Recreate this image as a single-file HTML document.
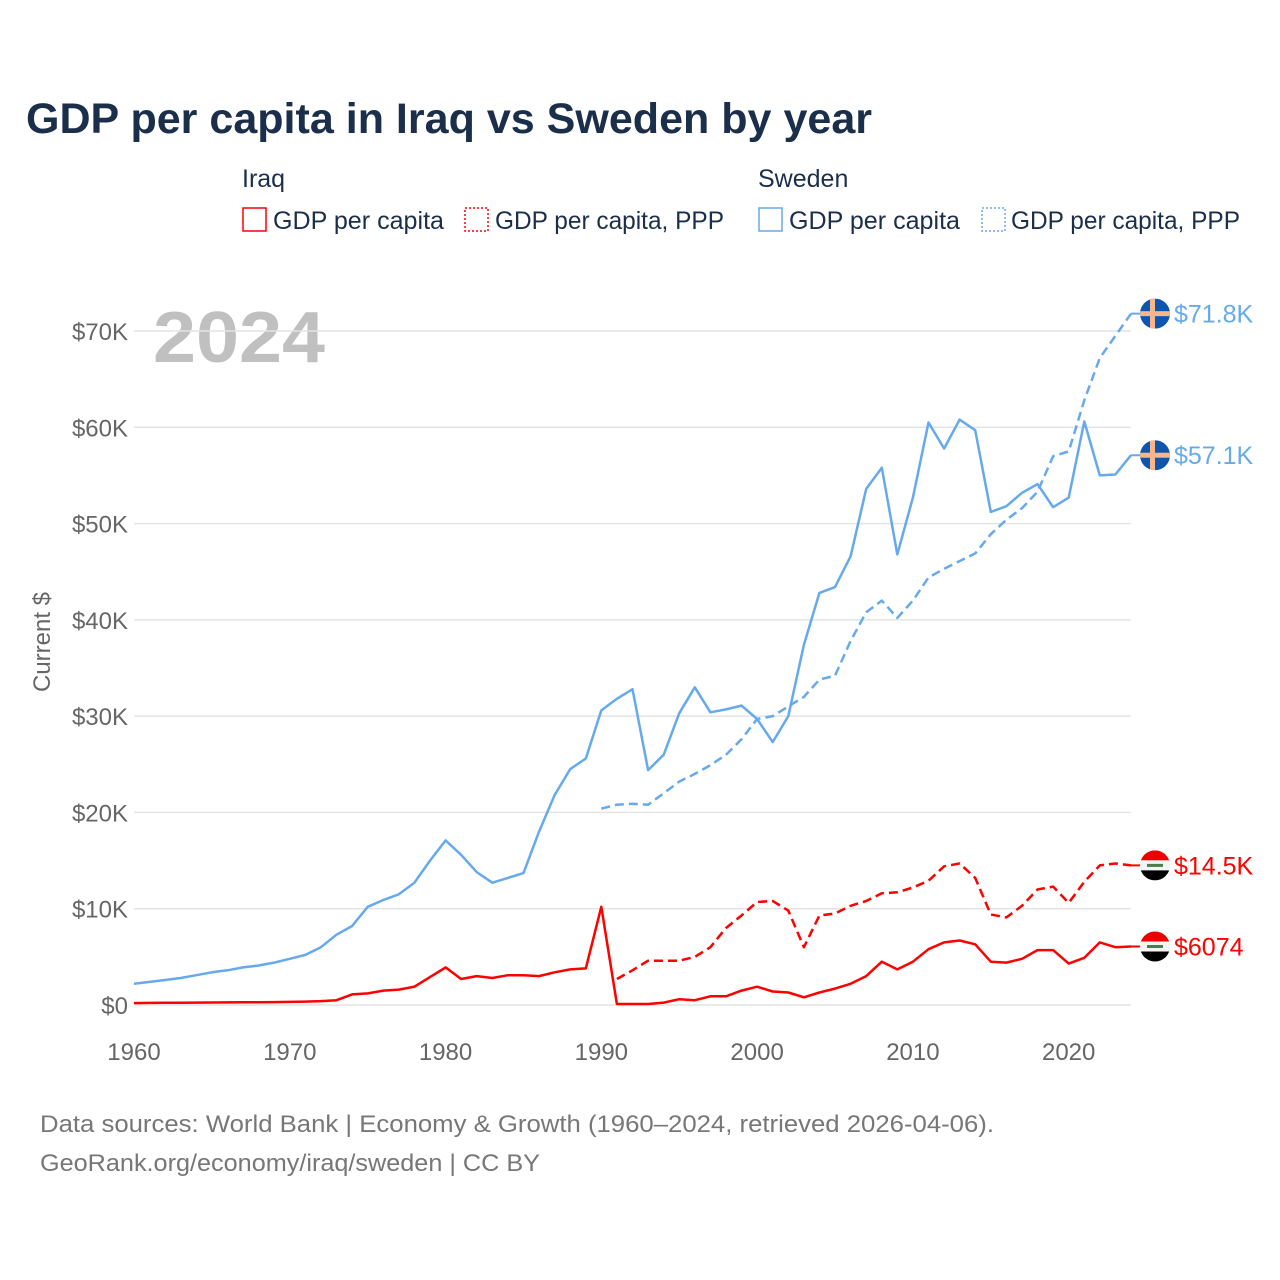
<!DOCTYPE html>
<html><head><meta charset="utf-8"><style>
body{margin:0;background:#fff;font-family:"Liberation Sans",sans-serif;}
#wrap{position:relative;width:1280px;height:1280px;overflow:hidden;}
</style></head><body>
<div id="wrap">
<svg id="chart" width="1280" height="1280" xmlns="http://www.w3.org/2000/svg">
<defs id="defs"></defs>
<text x="26" y="133" font-size="43" font-weight="bold" fill="#1b2f4a" textLength="846" lengthAdjust="spacingAndGlyphs">GDP per capita in Iraq vs Sweden by year</text>
<g font-size="25" fill="#1b2f4a">
<text x="242" y="187">Iraq</text>
<text x="758" y="187">Sweden</text>
<g><rect x="243" y="208" width="23" height="23" fill="none" stroke="#f00" stroke-width="1.5"/><text x="273" y="229" textLength="171" lengthAdjust="spacingAndGlyphs">GDP per capita</text></g>
<g><rect x="465" y="208" width="23" height="23" fill="none" stroke="#f00" stroke-width="1.5" stroke-dasharray="2,2"/><text x="495" y="229" textLength="229" lengthAdjust="spacingAndGlyphs">GDP per capita, PPP</text></g>
<g><rect x="759" y="208" width="23" height="23" fill="none" stroke="#66a9ec" stroke-width="1.5"/><text x="789" y="229" textLength="171" lengthAdjust="spacingAndGlyphs">GDP per capita</text></g>
<g><rect x="982" y="208" width="23" height="23" fill="none" stroke="#66a9ec" stroke-width="1.5" stroke-dasharray="2,2"/><text x="1011" y="229" textLength="229" lengthAdjust="spacingAndGlyphs">GDP per capita, PPP</text></g>
</g>
<text x="153" y="362" font-size="72" font-weight="bold" fill="#c0c0c0" textLength="172" lengthAdjust="spacingAndGlyphs">2024</text>
<text transform="translate(50,642) rotate(-90)" text-anchor="middle" font-size="24" fill="#666">Current $</text>
<g id="grid"></g><g id="yticks"></g><g id="xticks"></g><g id="series"></g><g id="ends"></g>
<text x="40" y="1132" font-size="24" fill="#777" textLength="954" lengthAdjust="spacingAndGlyphs">Data sources: World Bank | Economy &amp; Growth (1960–2024, retrieved 2026-04-06).</text>
<text x="40" y="1171" font-size="24" fill="#777" textLength="500" lengthAdjust="spacingAndGlyphs">GeoRank.org/economy/iraq/sweden | CC BY</text>
</svg></div>
<script>
const yTicks=[0,10000,20000,30000,40000,50000,60000,70000];
const yTickLabels=["$0","$10K","$20K","$30K","$40K","$50K","$60K","$70K"];
const xTicks=[1960,1970,1980,1990,2000,2010,2020];
const swedenGdpYears=[1960,1961,1962,1963,1964,1965,1966,1967,1968,1969,1970,1971,1972,1973,1974,1975,1976,1977,1978,1979,1980,1981,1982,1983,1984,1985,1986,1987,1988,1989,1990,1991,1992,1993,1994,1995,1996,1997,1998,1999,2000,2001,2002,2003,2004,2005,2006,2007,2008,2009,2010,2011,2012,2013,2014,2015,2016,2017,2018,2019,2020,2021,2022,2023,2024];
const swedenGdp=[2200,2400,2600,2800,3100,3400,3600,3900,4100,4400,4800,5200,6000,7300,8200,10200,10900,11500,12700,15000,17100,15600,13800,12700,13200,13700,18000,21800,24500,25600,30600,31800,32800,24400,26000,30300,33000,30400,30700,31100,29700,27300,30000,37400,42800,43400,46600,53600,55800,46800,52700,60500,57800,60800,59700,51200,51800,53200,54100,51700,52700,60600,55000,55100,57100];
const iraqGdp=[200,220,230,230,250,260,270,280,290,300,320,350,400,500,1100,1200,1500,1600,1900,2900,3900,2700,3000,2800,3100,3100,3000,3400,3700,3800,10200,100,100,100,250,600,500,900,900,1500,1900,1400,1300,800,1300,1700,2200,3000,4500,3700,4500,5800,6500,6700,6300,4500,4400,4800,5700,5700,4300,4900,6500,6000,6074];
const swedenPppYears=[1990,1991,1992,1993,1994,1995,1996,1997,1998,1999,2000,2001,2002,2003,2004,2005,2006,2007,2008,2009,2010,2011,2012,2013,2014,2015,2016,2017,2018,2019,2020,2021,2022,2023,2024];
const swedenPpp=[20400,20800,20900,20800,22000,23200,24000,24900,26000,27600,29700,30000,31000,32000,33800,34200,37800,40800,42000,40200,42000,44400,45300,46100,46900,48900,50400,51600,53300,57000,57500,62800,67200,69500,71800];
const iraqPppYears=[1991,1992,1993,1994,1995,1996,1997,1998,1999,2000,2001,2002,2003,2004,2005,2006,2007,2008,2009,2010,2011,2012,2013,2014,2015,2016,2017,2018,2019,2020,2021,2022,2023,2024];
const iraqPpp=[2700,3600,4600,4600,4600,5000,6000,8000,9300,10700,10800,9800,6000,9300,9500,10300,10800,11600,11700,12200,12900,14400,14700,13200,9400,9100,10300,12000,12300,10600,12800,14500,14700,14500];
const endLabels=["$71.8K","$57.1K","$14.5K","$6074"];

const NS="http://www.w3.org/2000/svg";
const X=y=>134+(y-1960)*(1131-134)/64;
const Y=v=>1005-v*(1005-331)/70000;
function mk(t,a,p){const e=document.createElementNS(NS,t);for(const k in a)e.setAttribute(k,a[k]);(typeof p==='string'?document.getElementById(p):p).appendChild(e);return e;}
yTicks.forEach((v,i)=>{
 const l=mk('line',{x1:134,x2:1131,y1:Y(v),y2:Y(v),stroke:'#e4e4e4','stroke-width':1.5},'grid');
 
 
 const t=mk('text',{x:128,y:Y(v)+9,'text-anchor':'end','font-size':24,fill:'#666'},'yticks');
 t.textContent=yTickLabels[i];
 
 
});
xTicks.forEach(v=>{
 const t=mk('text',{x:X(v),y:1060,'text-anchor':'middle','font-size':24,fill:'#666'},'xticks');
 t.textContent=v;
 
 
});
function line(years,vals,color,dash,name){
 const d=years.map((y,i)=>(i?'L':'M')+X(y).toFixed(1)+','+Y(vals[i]).toFixed(1)).join('');
 const p=mk('path',{d:d,fill:'none',stroke:color,'stroke-width':2.5,'stroke-linejoin':'round'},'series');
 if(dash)p.setAttribute('stroke-dasharray','9,5');
 
 
}
line(swedenGdpYears,swedenGdp,'#66a9ec',false,'line-sweden-gdp');
line(swedenPppYears,swedenPpp,'#66a9ec',true,'line-sweden-ppp');
line(swedenGdpYears,iraqGdp,'#f00',false,'line-iraq-gdp');
line(iraqPppYears,iraqPpp,'#f00',true,'line-iraq-ppp');
const ends=[[swedenPpp[swedenPpp.length-1],'#66a9ec','se'],[swedenGdp[swedenGdp.length-1],'#66a9ec','se'],[iraqPpp[iraqPpp.length-1],'#f00','iq'],[iraqGdp[iraqGdp.length-1],'#f00','iq']];
ends.forEach((e,i)=>{
 const y=Y(e[0]),cx=1155;
 mk('line',{x1:1131,x2:cx,y1:y,y2:y,stroke:e[1],'stroke-width':2},'ends');
 const cp=mk('clipPath',{id:'cp'+i},'defs');
 mk('circle',{cx:cx,cy:y,r:15},cp);
 const g=mk('g',{'clip-path':'url(#cp'+i+')'},'ends');
 
 
 if(e[2]=='se'){
  mk('rect',{x:cx-15,y:y-15,width:30,height:30,fill:'#0a56b0'},g);
  mk('rect',{x:cx-15,y:y-2.5,width:30,height:5,fill:'#f8b68a'},g);
  mk('rect',{x:cx-5,y:y-15,width:5,height:30,fill:'#f8b68a'},g);
 }else{
  mk('rect',{x:cx-15,y:y-15,width:30,height:10,fill:'#e00'},g);
  mk('rect',{x:cx-15,y:y-5,width:30,height:10,fill:'#f4f4f4'},g);
  mk('rect',{x:cx-15,y:y+5,width:30,height:10,fill:'#000'},g);
  mk('rect',{x:cx-8,y:y-1.5,width:16,height:3,fill:'#4a7d4a'},g);
 }
 const t=mk('text',{x:1174,y:y+9,'font-size':25,fill:e[1]},'ends');
 t.textContent=endLabels[i];
 
 
});
</script>
</body></html>
